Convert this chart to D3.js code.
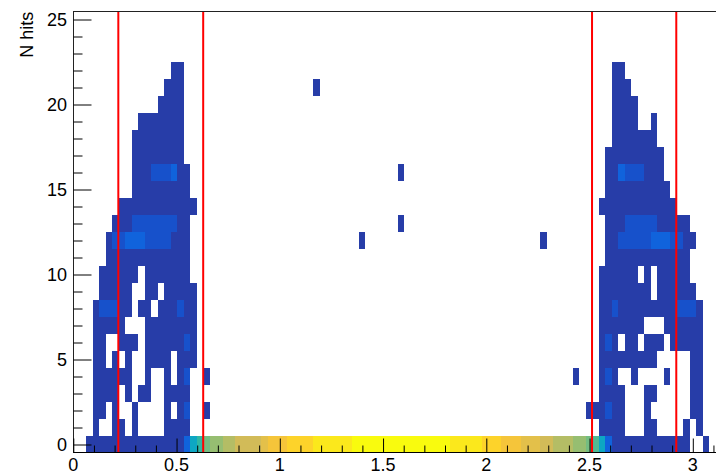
<!DOCTYPE html>
<html>
<head>
<meta charset="utf-8">
<script src="https://cdn.jsdelivr.net/npm/d3@7"></script>
<style>
  body { margin: 0; background: #fff; }
  svg { display: block; }
  text { font-family: "Liberation Sans", Arial, Helvetica, sans-serif; fill: #000; }
</style>
</head>
<body>
<svg id="chart" width="716" height="475"></svg>
<script>
// Polar angle (rad) vs number of hits, 100 x 26 bins, log colour scale.
const thetaRange = [0, Math.PI];
const thetaBinCount = 100;
const hitRange = [-0.5, 25.5];

const xTickValues = [0, 0.5, 1, 1.5, 2, 2.5, 3];
const yTickValues = [0, 5, 10, 15, 20, 25];
const yTitle = "N hits";

// acceptance cuts in theta
const cutLines = [0.218, 0.629, 2.512, 2.92];

// entries with N hits = 0, one per theta bin
const zeroHitCounts = [
  0, 0, 1, 1, 1, 1, 1, 1, 1, 1,
  1, 1, 1, 1, 1, 1, 1, 3, 20, 45,
  100, 140, 165, 200, 230, 290, 310, 330, 360, 450,
  650, 700, 760, 950, 1000, 1100, 1200, 1450, 1500, 1600,
  1700, 1800, 1900, 2100, 2200, 2300, 2400, 2500, 2600, 2700,
  2800, 2900, 3000, 2900, 2800, 2600, 2400, 2200, 1900, 1800,
  1700, 1600, 1500, 1250, 1150, 1000, 850, 760, 680, 560,
  500, 450, 380, 320, 250, 225, 195, 170, 145, 100,
  65, 20, 3, 1, 1, 1, 1, 1, 1, 1,
  1, 1, 1, 1, 1, 0, 0, 1, 0, 0
];

// N hits >= 1: runs of [first theta bin, counts per bin ('.' = empty)]
const hitRows = [
  [],                                                       // 0 (see zeroHitCounts)
  [[3, "1..11.1....1111"], [81, "1111...11....1.1"]],       // 1
  [[3, "11.1..1....1.12"], [20, "1"], [79, "111211...1......11"]], // 2
  [[3, "1111.1.11..1111"], [81, "1111...11.....11"]],       // 3
  [[3, "111111..1..1.12"], [20, "1"], [77, "1"], [81, "121..1....1...11"]], // 4
  [[3, "11.1.1..1111.111"], [81, "111111111.....11"]],      // 5
  [[3, "11..111.11111121"], [81, "121.11.111.11111"]],      // 6
  [[3, "11111...11111111"], [81, "1111111...111111"]],      // 7
  [[3, "122211.11.111211"], [81, "1121111111112221"]],      // 8
  [[4, "11111..11.11111"], [81, "11111111.111111"]],        // 9
  [[4, "111111.1111111"], [81, "111111.1.11111"]],          // 10
  [[5, "1111111111111"], [82, "1111111111111"]],            // 11
  [[5, "1223332222111"], [44, "1"], [72, "1"], [82, "11222223332211"]], // 12
  [[6, "111222222211"], [50, "1"], [82, "1112222211111"]],  // 13
  [[7, "111111111111"], [81, "111111111111"]],              // 14
  [[9, "111111111"], [82, "1111111111"]],                   // 15
  [[9, "111222311"], [50, "1"], [82, "113222111"]],         // 16
  [[9, "11111111"], [82, "111111111"]],                     // 17
  [[9, "11111111"], [83, "1111111"]],                       // 18
  [[10, "1111111"], [83, "1111..1"]],                       // 19
  [[13, "1111"], [83, "1111"]],                             // 20
  [[14, "111"], [37, "1"], [83, "111"]],                    // 21
  [[15, "11"], [83, "11"]],                                 // 22
  [], [], []                                                // 23-25
];

// kBird palette stops
const birdStops = ["#352a87", "#0f5cdd", "#1481d6", "#06a4ca", "#2eb7a4",
                   "#87bf77", "#d1bb59", "#fec832", "#f9fb0e"];

// ---- layout ----
const width = 716, height = 475;
const plot = { left: 73.3, top: 11, bottom: 453 };
const pxPerUnitX = 206.5;
plot.right = plot.left + pxPerUnitX * thetaRange[1];

const svg = d3.select("#chart");

const x = d3.scaleLinear().domain(thetaRange).range([plot.left, plot.right]);
const y = d3.scaleLinear().domain(hitRange).range([plot.bottom, plot.top]);

// ---- build cells ----
const binWidth = (thetaRange[1] - thetaRange[0]) / thetaBinCount;
const cells = [];
zeroHitCounts.forEach((c, i) => { if (c > 0) cells.push({ bin: i, n: 0, count: c }); });
hitRows.forEach((runs, n) => {
  runs.forEach(([start, s]) => {
    [...s].forEach((ch, k) => {
      if (ch !== ".") cells.push({ bin: start + k, n, count: +ch });
    });
  });
});

// ---- colour: log z, 20 contour levels over a 255-colour palette ----
const palette = d3.scaleLinear()
  .domain(birdStops.map((_, i) => i / (birdStops.length - 1)))
  .range(birdStops)
  .interpolate(d3.interpolateRgb);
const zMin = 1, zMax = d3.max(cells, d => d.count);
const nContours = 20, nColors = 255;
function cellColor(c) {
  const lmin = Math.log10(zMin), lmax = Math.log10(zMax);
  let band = Math.floor(0.01 + (Math.log10(c) - lmin) * nContours / (lmax - lmin));
  band = Math.max(0, Math.min(nContours - 1, band));
  const idx = Math.floor((band + 0.99) * nColors / nContours);
  return palette(idx / (nColors - 1));
}

svg.append("defs").append("clipPath").attr("id", "frame-clip")
  .append("rect")
  .attr("x", plot.left).attr("y", plot.top)
  .attr("width", plot.right - plot.left).attr("height", plot.bottom - plot.top);

const g = svg.append("g").attr("clip-path", "url(#frame-clip)");

g.selectAll("rect.cell")
  .data(cells)
  .join("rect")
  .attr("class", "cell")
  .attr("x", d => x(d.bin * binWidth))
  .attr("width", d => x((d.bin + 1) * binWidth) - x(d.bin * binWidth))
  .attr("y", d => y(d.n + 0.5))
  .attr("height", d => y(d.n - 0.5) - y(d.n + 0.5))
  .attr("fill", d => cellColor(d.count))
  .attr("shape-rendering", "crispEdges");

// ---- cut lines ----
g.selectAll("line.cut")
  .data(cutLines)
  .join("line")
  .attr("class", "cut")
  .attr("x1", d => x(d)).attr("x2", d => x(d))
  .attr("y1", plot.top).attr("y2", plot.bottom)
  .attr("stroke", "#ff0000")
  .attr("stroke-width", 2);

// ---- frame ----
svg.append("rect")
  .attr("x", Math.round(plot.left) + 0.5).attr("y", plot.top + 0.5)
  .attr("width", plot.right - plot.left).attr("height", plot.bottom - plot.top - 1)
  .attr("fill", "none").attr("stroke", "#222").attr("stroke-width", 1);

// ---- x axis (ticks drawn inward) ----
const xMinor = d3.range(0, 32).map(k => k / 10);
const xAxis = d3.axisBottom(x)
  .tickValues(xMinor)
  .tickSize(0)
  .tickFormat("");
const xg = svg.append("g").attr("transform", `translate(0,${plot.bottom - 0.5})`);
xg.call(xAxis).select(".domain").remove();
xg.selectAll(".tick line")
  .attr("stroke", "#000")
  .attr("y2", d => (Math.abs(d * 2 - Math.round(d * 2)) < 1e-9) ? -14 : -7);
svg.append("line")
  .attr("x1", plot.left).attr("x2", plot.right)
  .attr("y1", plot.bottom - 0.5).attr("y2", plot.bottom - 0.5)
  .attr("stroke", "#000");
svg.append("g").selectAll("text")
  .data(xTickValues)
  .join("text")
  .attr("x", d => x(d))
  .attr("y", 471)
  .attr("text-anchor", "middle")
  .attr("font-size", 18)
  .text(d => d3.format("")(d));

// ---- y axis ----
const yMinor = d3.range(0, 26);
const yAxis = d3.axisLeft(y).tickValues(yMinor).tickSize(0).tickFormat("");
const yg = svg.append("g").attr("transform", `translate(${Math.round(plot.left) + 0.5},0)`);
yg.call(yAxis).select(".domain").remove();
yg.selectAll(".tick line")
  .attr("stroke", "#000")
  .attr("x2", d => d % 5 === 0 ? 18 : 9);
svg.append("g").selectAll("text")
  .data(yTickValues)
  .join("text")
  .attr("x", 67)
  .attr("y", d => y(d) + 6.5)
  .attr("text-anchor", "end")
  .attr("font-size", 18)
  .text(d => d);

svg.append("text")
  .attr("transform", "translate(33,11.7) rotate(-90)")
  .attr("text-anchor", "end")
  .attr("font-size", 18)
  .text(yTitle);
</script>
</body>
</html>
